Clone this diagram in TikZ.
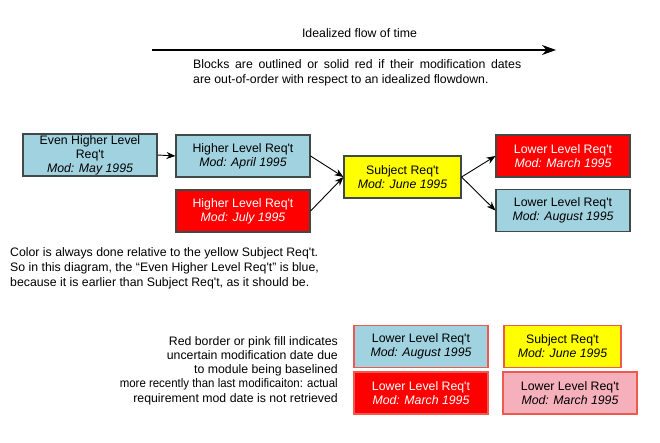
\documentclass[tikz,border=0pt]{standalone}
\usepackage{fontspec}
\usepackage{graphicx}
\setmainfont{Liberation Sans}
\usetikzlibrary{arrows.meta}
\definecolor{rqblue}{HTML}{A0D2E0}
\definecolor{rqred}{HTML}{FF0000}
\definecolor{rqyellow}{HTML}{FFFF00}
\definecolor{rqpink}{HTML}{F5B0BC}
\definecolor{rqedge}{HTML}{404848}
\definecolor{rqredge}{HTML}{EE5A50}
\newcommand{\wline}[2]{\resizebox{#1pt}{\height}{#2}}
\newcommand{\ap}{\textquotesingle}
\begin{document}
\begin{tikzpicture}[x=1pt,y=-1pt,
  every node/.style={font=\fontsize{12.3}{14}\selectfont},
  req/.style={draw=rqedge,line width=1.1pt,minimum width=134pt,minimum height=42pt,align=center,inner sep=1pt},
  bluebox/.style={req,fill=rqblue},
  redbox/.style={req,fill=rqred,text=white},
  yellowbox/.style={req,fill=rqyellow},
  uncertain/.style={draw=rqredge},
  conn/.style={-{Stealth[length=9pt,width=7pt]},line width=0.9pt},
  txt/.style={inner sep=0pt,anchor=base west},
  rtxt/.style={inner sep=0pt,anchor=base east}]
\useasboundingbox (0,0) rectangle (660,443);
% time arrow
\coordinate (t0) at (152,50);
\coordinate (t1) at (556,50);
\draw[-{Stealth[length=14pt,width=10pt]},line width=1.3pt] (t0) -- (t1);
\node[inner sep=0pt,anchor=base] (tl) at (359.5,37.5) {Idealized flow of time};
\node[txt] (b1) at (193,69) {\makebox[328pt][s]{Blocks are outlined or solid red if their modification dates}};
\node[txt] (b2) at (193,84) {are out-of-order with respect to an idealized flowdown.};
% boxes
\node[bluebox] (eh) at (90,155) {Even Higher Level\\Req\ap t\\\textit{Mod: May 1995}};
\node[bluebox] (ha) at (243,156) {Higher Level Req\ap t\\\textit{Mod: April 1995}};
\node[redbox] (hj) at (243,211) {Higher Level Req\ap t\\\textit{Mod: July 1995}};
\node[yellowbox,minimum width=117pt] (sj) at (402.5,177) {Subject Req\ap t\\\textit{Mod: June 1995}};
\node[redbox] (lm) at (563,156) {Lower Level Req\ap t\\\textit{Mod: March 1995}};
\node[bluebox] (la) at (563,210.5) {Lower Level Req\ap t\\\textit{Mod: August 1995}};
\draw[conn] (eh.east) -- (ha.west);
\draw[conn] (ha.east) -- (sj.west);
\draw[conn] (hj.east) -- (sj.west);
\draw[conn] (sj.east) -- (lm.west);
\draw[conn] (sj.east) -- (la.west);
% colour note
\node[txt] (c1) at (10,256) {Color is always done relative to the yellow Subject Req\ap t.};
\node[txt] (c2) at (10,271) {So in this diagram, the “Even Higher Level Req\ap t” is blue,};
\node[txt] (c3) at (10,286) {because it is earlier than Subject Req\ap t, as it should be.};
% legend text
\node[rtxt] (r1) at (338,345) {Red border or pink fill indicates};
\node[rtxt] (r2) at (338,359.3) {uncertain modification date due};
\node[rtxt] (r3) at (338,373.6) {to module being baselined};
\node[rtxt] (r4) at (338,387.9) {\wline{218}{more recently than last modificaiton: actual}};
\node[rtxt] (r5) at (338,402.2) {requirement mod date is not retrieved};
% legend boxes
\node[bluebox,uncertain] (ga) at (421,346.5) {Lower Level Req\ap t\\\textit{Mod: August 1995}};
\node[yellowbox,uncertain,minimum width=117pt] (gs) at (562.5,346.5) {Subject Req\ap t\\\textit{Mod: June 1995}};
\node[redbox,uncertain] (gm) at (421,393) {Lower Level Req\ap t\\\textit{Mod: March 1995}};
\node[req,uncertain,fill=rqpink] (gp) at (570,393) {Lower Level Req\ap t\\\textit{Mod: March 1995}};
\end{tikzpicture}
\end{document}
